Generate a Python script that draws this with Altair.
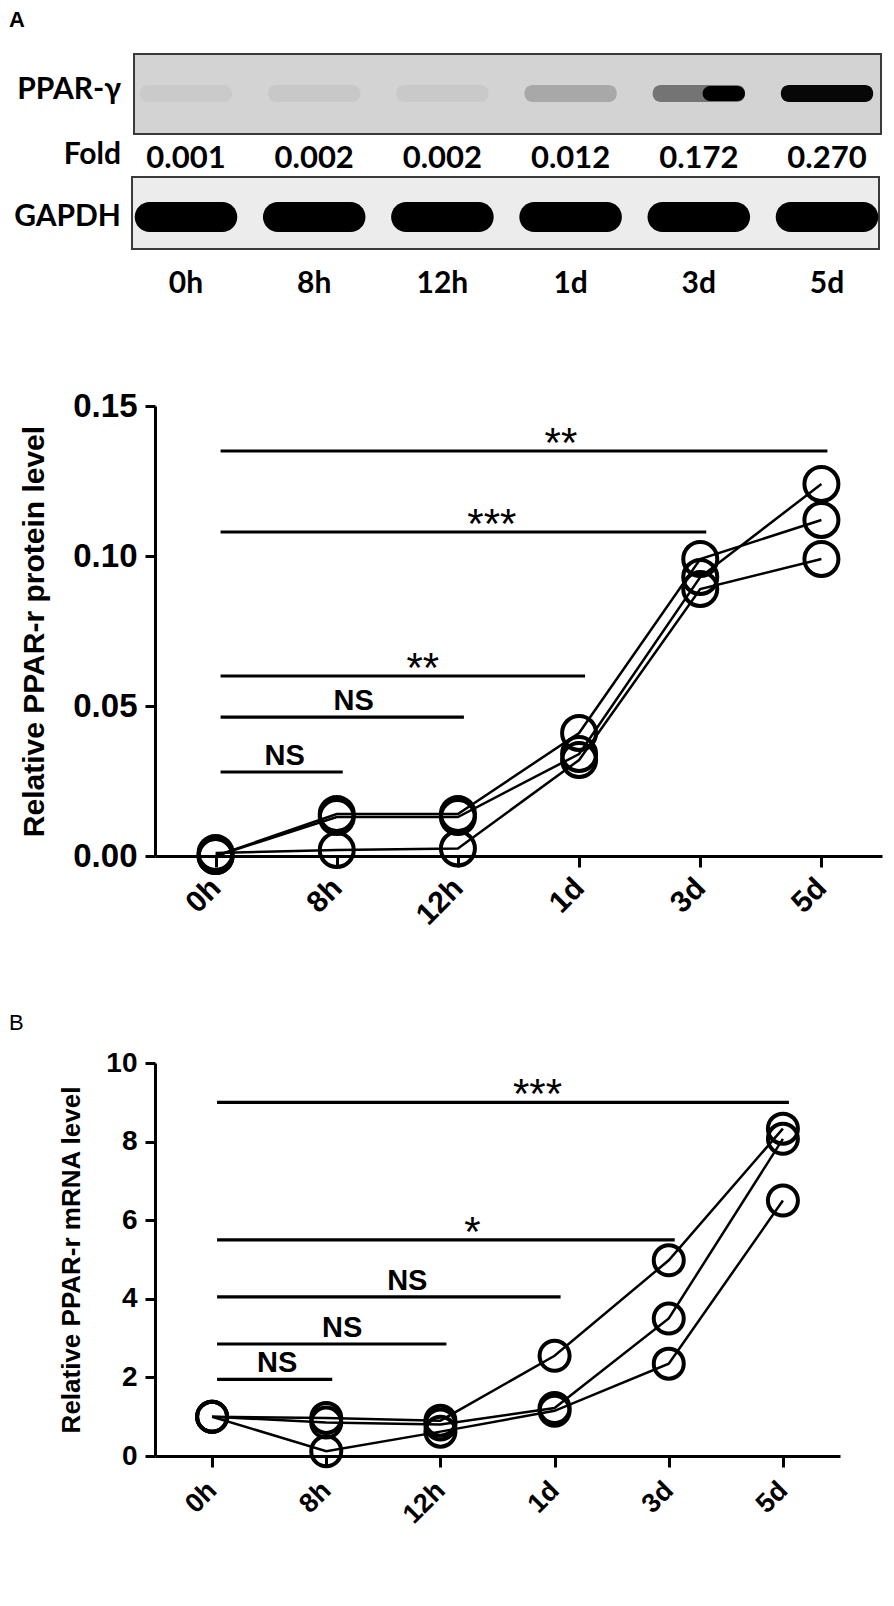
import altair as alt
import pandas as pd

# ---------------- data ----------------
TIMES = ["0h", "8h", "12h", "1d", "3d", "5d"]
FOLD = ["0.001", "0.002", "0.002", "0.012", "0.172", "0.270"]
PPAR_BAND = [0.04, 0.05, 0.045, 0.2, 0.45, 0.97]   # darkness of PPAR-γ band
PPAR_CORE = [0.0, 0.0, 0.0, 0.0, 1.0, 0.0]         # dark core of the 3d band
GAPDH_BAND = [1.0, 1.0, 1.0, 1.0, 1.0, 1.0]

PROT_REP1 = [0.000, 0.014, 0.014, 0.041, 0.099, 0.112]
PROT_REP2 = [0.000, 0.013, 0.013, 0.034, 0.093, 0.124]
PROT_REP3 = [0.001, 0.002, 0.0025, 0.032, 0.089, 0.099]

MRNA_REP1 = [1.0, 0.97, 0.90, 2.55, 4.98, 8.33]
MRNA_REP2 = [1.0, 0.85, 0.80, 1.22, 3.50, 8.07]
MRNA_REP3 = [1.0, 0.12, 0.62, 1.15, 2.35, 6.50]

PROT_SIG_END = ["8h", "12h", "1d", "3d", "5d"]
PROT_SIG_Y = [0.028, 0.0463, 0.060, 0.108, 0.135]
PROT_SIG_LABEL = ["NS", "NS", "**", "***", "**"]

MRNA_SIG_END = ["8h", "12h", "1d", "3d", "5d"]
MRNA_SIG_Y = [1.95, 2.85, 4.05, 5.5, 9.0]
MRNA_SIG_LABEL = ["NS", "NS", "NS", "*", "***"]

AX_FONT = "Liberation Sans"
BLOT_FONT = "Lato"

LABEL_EXPR = "[" + ",".join("'%s'" % t for t in TIMES) + "][datum.value]"


def panel(reps, sig_end, sig_y, sig_label, ymax, yvals, yfmt, ytitle,
          width, height, size, fs_tick, fs_xtick, fs_title, title_x,
          xlabel_pad, letter):
    rows = []
    for r, vals in enumerate(reps):
        for i, v in enumerate(vals):
            rows.append({"rep": "r%d" % (r + 1), "t": i, "v": v})
    df = pd.DataFrame(rows)
    sig = pd.DataFrame({
        "start": [0] * len(sig_end),
        "end": [TIMES.index(e) for e in sig_end],
        "y": sig_y,
        "label": sig_label,
    })

    xscale = alt.Scale(domain=[-0.5, 5.5], nice=False, zero=False)
    yscale = alt.Scale(domain=[0, ymax], nice=False)
    x = alt.X("t:Q", scale=xscale, axis=alt.Axis(
        values=list(range(len(TIMES))), labelExpr=LABEL_EXPR, labelAngle=-45,
        labelAlign="right", labelBaseline="middle", labelPadding=xlabel_pad,
        tickSize=11, labelFontSize=fs_xtick, title=None, grid=False))
    y = alt.Y("v:Q", scale=yscale, axis=alt.Axis(
        values=yvals, format=yfmt, title=ytitle, titleX=title_x,
        titleBaseline="middle", titleFontSize=fs_title, labelFontSize=fs_tick,
        tickSize=10, labelPadding=8, grid=False))

    base = alt.Chart(df)
    lines = base.mark_line(color="black", strokeWidth=2.5).encode(
        x=x, y=y, detail="rep:N")
    pts = base.mark_point(shape="circle", filled=False, size=size,
                          strokeWidth=4, color="black", opacity=1).encode(
        x=x, y=y)

    sb = alt.Chart(sig).transform_calculate(
        tx="datum.start + 0.57 * (datum.end - datum.start)")
    rules = sb.mark_rule(color="black", strokeWidth=3.2, xOffset=5,
                         x2Offset=6).encode(
        x=alt.X("start:Q", scale=xscale),
        x2="end:Q",
        y=alt.Y("y:Q", scale=yscale))
    ns = sb.transform_filter("datum.label == 'NS'").mark_text(
        font=AX_FONT, fontWeight="bold", fontSize=29, baseline="alphabetic",
        dy=-7, color="black").encode(
        x=alt.X("tx:Q", scale=xscale), y=alt.Y("y:Q", scale=yscale),
        text="label:N")
    stars = sb.transform_filter("datum.label != 'NS'").mark_text(
        font=AX_FONT, fontSize=42, baseline="alphabetic", dy=6,
        color="black").encode(
        x=alt.X("tx:Q", scale=xscale), y=alt.Y("y:Q", scale=yscale),
        text="label:N")

    let = alt.Chart(alt.Data(values=[{"s": letter}])).mark_text(
        font=AX_FONT, fontSize=22, align="left", baseline="middle",
        color="black").encode(
        x=alt.value(-146), y=alt.value(-40), text="s:N")

    layers = [lines, pts, rules, ns, stars]
    if letter == "B":
        layers.append(let)
    return alt.layer(*layers).properties(width=width, height=height)


# ---------------- western blot strip ----------------
lanes = pd.DataFrame({"lane": list(range(len(TIMES))), "time": TIMES,
                      "fold": FOLD, "ppar": PPAR_BAND, "core": PPAR_CORE,
                      "gapdh": GAPDH_BAND})
xb = alt.Scale(domain=[-0.2418, 5.429], nice=False, zero=False)
lb = alt.Chart(lanes)
one = alt.Chart(alt.Data(values=[{"a": 1}]))

box1 = one.mark_rect(fill="#d3d3d3", stroke="#3a3a3a", strokeWidth=2).encode(
    x=alt.value(-21), x2=alt.value(726), y=alt.value(44), y2=alt.value(124))
box2 = one.mark_rect(fill="#ececec", stroke="#3a3a3a", strokeWidth=2).encode(
    x=alt.value(-23), x2=alt.value(724), y=alt.value(167), y2=alt.value(239))

ppar = lb.transform_calculate(x0="datum.lane - 0.36", x1="datum.lane + 0.36").mark_rect(
    color="black", cornerRadius=8).encode(
    x=alt.X("x0:Q", scale=xb, axis=None), x2="x1:Q",
    y=alt.value(75), y2=alt.value(92),
    opacity=alt.Opacity("ppar:Q", scale=None, legend=None))
core = lb.transform_calculate(x0="datum.lane + 0.03", x1="datum.lane + 0.36").mark_rect(
    color="black", cornerRadius=8).encode(
    x=alt.X("x0:Q", scale=xb, axis=None), x2="x1:Q",
    y=alt.value(76), y2=alt.value(91),
    opacity=alt.Opacity("core:Q", scale=None, legend=None))
gapdh = lb.transform_calculate(x0="datum.lane - 0.40", x1="datum.lane + 0.40").mark_rect(
    color="black", cornerRadius=15).encode(
    x=alt.X("x0:Q", scale=xb, axis=None), x2="x1:Q",
    y=alt.value(192), y2=alt.value(222),
    opacity=alt.Opacity("gapdh:Q", scale=None, legend=None))

fold_txt = lb.mark_text(font=BLOT_FONT, fontWeight="bold", fontSize=31,
                        baseline="middle", color="black").encode(
    x=alt.X("lane:Q", scale=xb, axis=None), y=alt.value(149), text="fold:N")
lane_txt = lb.mark_text(font=BLOT_FONT, fontWeight="bold", fontSize=30,
                        baseline="middle", color="black").encode(
    x=alt.X("lane:Q", scale=xb, axis=None), y=alt.value(274), text="time:N")


def side_label(txt, yv):
    return alt.Chart(alt.Data(values=[{"s": txt}])).mark_text(
        font=BLOT_FONT, fontWeight="bold", fontSize=30, align="right",
        baseline="middle", color="black").encode(
        x=alt.value(-34), y=alt.value(yv), text="s:N")


lab_a = alt.Chart(alt.Data(values=[{"s": "A"}])).mark_text(
    font=AX_FONT, fontSize=22, fontWeight="bold", align="left",
    baseline="top", color="black").encode(
    x=alt.value(-146), y=alt.value(0), text="s:N")

blot = alt.layer(box1, box2, ppar, core, gapdh, fold_txt, lane_txt,
                 side_label("PPAR-γ", 80), side_label("Fold", 145),
                 side_label("GAPDH", 207), lab_a).properties(width=727, height=189)

pA = panel([PROT_REP1, PROT_REP2, PROT_REP3], PROT_SIG_END, PROT_SIG_Y,
           PROT_SIG_LABEL, 0.15, [0, 0.05, 0.10, 0.15], ".2f",
           "Relative PPAR-r protein level", 727, 450, 1156, 33, 30, 30, -121,
           16, "A")
pB = panel([MRNA_REP1, MRNA_REP2, MRNA_REP3], MRNA_SIG_END, MRNA_SIG_Y,
           MRNA_SIG_LABEL, 10, [0, 2, 4, 6, 8, 10], "d",
           "Relative PPAR-r mRNA level", 685, 393, 900, 28, 27, 26, -84,
           19, "B")

chart = alt.vconcat(blot, pA, pB, spacing=207, bounds="flush").resolve_scale(
    x="independent", y="independent").properties(padding=0).configure_view(
    stroke="transparent").configure_axis(
    domainColor="black", domainWidth=3, tickColor="black", tickWidth=3,
    labelColor="black", titleColor="black", labelFont=AX_FONT,
    titleFont=AX_FONT, labelFontWeight="bold", titleFontWeight="bold")

chart.save("out.html", embed_options={"renderer": "svg", "actions": False})
